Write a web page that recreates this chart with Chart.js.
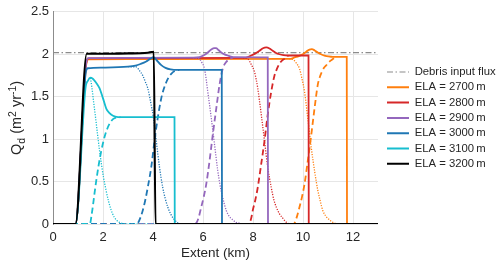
<!DOCTYPE html>
<html lang="en">
<head>
<meta charset="UTF-8">
<title>Debris flux vs extent</title>
<script src="https://cdn.jsdelivr.net/npm/chart.js"></script>
<style>
  html, body { margin: 0; padding: 0; background: #fff; }
  #wrap { width: 500px; height: 268px; }
</style>
</head>
<body>
<div id="wrap"><canvas id="fluxChart"></canvas></div>
<script>
// values: [extent km, Qd]
const xTickLabels = ['0', '2', '4', '6', '8', '10', '12'];
const yTickLabels = ['0', '0.5', '1', '1.5', '2', '2.5'];
const legendNames = ['Debris input flux', 'ELA = 2700\u2009m', 'ELA = 2800\u2009m', 'ELA = 2900\u2009m',
                     'ELA = 3000\u2009m', 'ELA = 3100\u2009m', 'ELA = 3200\u2009m'];

const debrisInput = [[0, 2.02], [13, 2.02]];

const ela2700Total = [[0,0],[0.9,0],[1.33,1.88],[1.42,1.94],[3,1.942],[9.5,1.945],[9.66,1.962],[9.83,1.978],[9.99,2.0],[10.13,2.03],[10.26,2.055],[10.35,2.06],[10.47,2.045],[10.59,2.02],[10.72,2.0],[10.86,1.985],[11.02,1.974],[11.19,1.968],[11.75,1.968],[11.76,0]];
const ela2700Decay = [[9.45,1.945],[9.59,1.94],[9.72,1.9],[9.86,1.83],[9.96,1.71],[10.06,1.56],[10.19,1.25],[10.33,0.9],[10.46,0.63],[10.59,0.4],[10.69,0.27],[10.79,0.16],[10.92,0.09],[11.06,0.05],[11.16,0.025],[11.26,0.01],[11.4,0],[11.76,0]];
const ela2700Rise = [[0,0],[9.6,0],[9.66,0.01],[9.76,0.09],[9.86,0.2],[9.96,0.32],[10.06,0.47],[10.19,0.74],[10.33,1.05],[10.46,1.36],[10.59,1.64],[10.67,1.73],[10.75,1.79],[10.84,1.84],[10.93,1.87],[11.03,1.905],[11.13,1.93],[11.25,1.955],[11.35,1.968]];

const ela2800Total = [[0,0],[0.9,0],[1.33,1.9],[1.42,1.952],[3,1.955],[7.7,1.958],[7.93,1.985],[8.1,2.01],[8.26,2.04],[8.4,2.07],[8.53,2.08],[8.66,2.068],[8.79,2.04],[8.92,2.015],[9.06,2.0],[9.22,1.99],[9.39,1.985],[10.22,1.985],[10.23,0]];
const ela2800Decay = [[7.6,1.955],[7.79,1.945],[7.93,1.88],[8.06,1.79],[8.13,1.7],[8.19,1.6],[8.26,1.45],[8.33,1.29],[8.46,0.98],[8.59,0.67],[8.73,0.43],[8.83,0.29],[8.93,0.2],[9.06,0.12],[9.19,0.07],[9.3,0.03],[9.39,0.01],[9.5,0],[10.23,0]];
const ela2800Rise = [[0,0],[7.8,0],[7.86,0.01],[7.93,0.07],[7.99,0.16],[8.09,0.28],[8.19,0.43],[8.33,0.71],[8.46,0.98],[8.59,1.29],[8.73,1.56],[8.86,1.75],[8.96,1.83],[9.06,1.89],[9.16,1.925],[9.26,1.945],[9.4,1.98]];

const ela2900Total = [[0,0],[0.9,0],[1.33,1.9],[1.42,1.955],[3,1.958],[5.6,1.96],[5.86,1.965],[6.05,1.99],[6.19,2.02],[6.33,2.055],[6.45,2.072],[6.52,2.072],[6.62,2.05],[6.73,2.02],[6.86,1.998],[6.99,1.985],[7.12,1.972],[7.26,1.965],[8.59,1.962],[8.6,0]];
const ela2900Decay = [[5.6,1.96],[5.76,1.955],[5.86,1.945],[5.96,1.9],[6.06,1.83],[6.13,1.7],[6.19,1.56],[6.26,1.41],[6.33,1.25],[6.46,0.94],[6.59,0.63],[6.67,0.48],[6.75,0.36],[6.84,0.25],[6.93,0.16],[7.05,0.09],[7.19,0.05],[7.32,0.02],[7.46,0.01],[7.6,0],[8.6,0]];
const ela2900Rise = [[0,0],[5.65,0],[5.73,0.01],[5.83,0.08],[5.93,0.2],[6.03,0.32],[6.13,0.47],[6.26,0.74],[6.39,1.05],[6.53,1.36],[6.66,1.64],[6.72,1.74],[6.79,1.83],[6.86,1.88],[6.93,1.91],[7.06,1.945],[7.2,1.962]];

const ela3000Total = [[0,0],[0.9,0],[1.32,1.8],[1.4,1.835],[2,1.843],[3,1.853],[3.3,1.865],[3.5,1.885],[3.73,1.915],[3.9,1.948],[4.02,1.965],[4.13,1.935],[4.33,1.872],[4.5,1.84],[4.7,1.822],[5,1.815],[6.75,1.815],[6.76,0]];
const ela3000Decay = [[3.0,1.853],[3.33,1.85],[3.45,1.81],[3.59,1.75],[3.7,1.67],[3.79,1.6],[3.93,1.4],[4.02,1.25],[4.13,0.98],[4.26,0.67],[4.39,0.43],[4.49,0.3],[4.59,0.2],[4.72,0.11],[4.86,0.05],[5.0,0.01],[5.1,0],[6.76,0]];
const ela3000Rise = [[0,0],[3.3,0],[3.39,0.01],[3.49,0.07],[3.59,0.16],[3.69,0.28],[3.79,0.43],[3.93,0.67],[4.06,0.98],[4.19,1.25],[4.33,1.48],[4.43,1.59],[4.53,1.67],[4.63,1.73],[4.73,1.77],[4.93,1.81],[5.05,1.815]];

const ela3100Total = [[0,0],[0.9,0],[1.3,1.6],[1.4,1.69],[1.5,1.725],[1.58,1.715],[1.66,1.69],[1.76,1.65],[1.86,1.6],[2.0,1.48],[2.13,1.36],[2.25,1.31],[2.4,1.275],[2.6,1.26],[3,1.258],[4.86,1.258],[4.87,0]];
const ela3100Decay = [[1.5,1.72],[1.56,1.6],[1.62,1.45],[1.7,1.26],[1.78,1.06],[1.86,0.87],[1.94,0.7],[2.02,0.55],[2.12,0.4],[2.22,0.27],[2.33,0.16],[2.45,0.08],[2.6,0.03],[2.8,0.005],[2.95,0],[4.87,0]];
const ela3100Rise = [[0,0],[1.45,0],[1.49,0.01],[1.54,0.1],[1.59,0.2],[1.66,0.36],[1.73,0.51],[1.83,0.7],[1.93,0.86],[2.03,0.99],[2.13,1.09],[2.26,1.18],[2.4,1.235],[2.55,1.255],[2.7,1.258]];

const ela3200Total = [[0,0],[0.9,0],[1.35,2.005],[2,2.005],[3,2.01],[3.5,2.012],[3.8,2.018],[3.95,2.025],[4.03,2.03],[4.1,0],[13,0]];

const toXY = arr => arr.map(p => ({ x: p[0], y: p[1] }));

function solid(label, pts, color, order, width) {
  return { label, data: toXY(pts), borderColor: color, backgroundColor: color, borderWidth: width || 1.8,
           pointRadius: 0, cubicInterpolationMode: 'monotone', order, inLegend: true };
}
function dotted(pts, color, order) {
  return { label: '', data: toXY(pts), borderColor: color, borderWidth: 1.3, borderDash: [1.2, 1.4],
           pointRadius: 0, cubicInterpolationMode: 'monotone', order, inLegend: false };
}
function dashed(pts, color, order) {
  return { label: '', data: toXY(pts), borderColor: color, borderWidth: 1.8, borderDash: [6, 3.5],
           pointRadius: 0, cubicInterpolationMode: 'monotone', order, inLegend: false };
}

const cOrange = '#ff7f0e', cRed = '#d62728', cPurple = '#9467bd', cBlue = '#1f77b4', cCyan = '#17becf';

const datasets = [
  { label: legendNames[0], data: toXY(debrisInput), borderColor: '#8c8c8c', backgroundColor: '#8c8c8c',
    borderWidth: 1.2, borderDash: [6, 2.5, 1.5, 2.5], pointRadius: 0, order: 16, inLegend: true },
  solid(legendNames[1], ela2700Total, cOrange, 13),
  solid(legendNames[2], ela2800Total, cRed, 10),
  solid(legendNames[3], ela2900Total, cPurple, 7),
  solid(legendNames[4], ela3000Total, cBlue, 4),
  solid(legendNames[5], ela3100Total, cCyan, 1),
  solid(legendNames[6], ela3200Total, '#000000', 0, 2.1),
  dotted(ela2700Decay, cOrange, 15), dashed(ela2700Rise, cOrange, 14),
  dotted(ela2800Decay, cRed, 12), dashed(ela2800Rise, cRed, 11),
  dotted(ela2900Decay, cPurple, 9), dashed(ela2900Rise, cPurple, 8),
  dotted(ela3000Decay, cBlue, 6), dashed(ela3000Rise, cBlue, 5),
  dotted(ela3100Decay, cCyan, 3), dashed(ela3100Rise, cCyan, 2)
];

// y label with sub/superscripts
const yAxisLabel = {
  id: 'yAxisLabel',
  afterDraw(chart) {
    const ctx = chart.ctx;
    const parts = [['Q', 0, 14.5], ['d', 3.5, 10.5], [' (m', 0, 14.5], ['2', -5.5, 10.5],
                   [' yr', 0, 14.5], ['-1', -5.5, 10.5], [')', 0, 14.5]];
    const fam = "'Liberation Sans', Arial, sans-serif";
    ctx.save();
    let w = 0;
    parts.forEach(p => { ctx.font = p[2] + 'px ' + fam; w += ctx.measureText(p[0]).width; });
    ctx.translate(21, (chart.chartArea.top + chart.chartArea.bottom) / 2);
    ctx.rotate(-Math.PI / 2);
    ctx.fillStyle = '#262626';
    ctx.textBaseline = 'alphabetic';
    let x = -w / 2;
    parts.forEach(p => {
      ctx.font = p[2] + 'px ' + fam;
      ctx.fillText(p[0], x, p[1]);
      x += ctx.measureText(p[0]).width;
    });
    ctx.restore();
  }
};

// push legend a few px right of the plot edge
const legendNudge = {
  id: 'legendNudge',
  afterLayout(chart) {
    if (chart.legend) { chart.legend.left += 5; chart.legend.right += 5; }
  }
};

Chart.defaults.font.family = "'Liberation Sans', Arial, sans-serif";
Chart.defaults.color = '#262626';

new Chart(document.getElementById('fluxChart'), {
  type: 'line',
  data: { datasets },
  options: {
    responsive: true,
    maintainAspectRatio: false,
    animation: false,
    parsing: false,
    layout: { padding: { top: 9, left: 0, right: 0, bottom: 0 } },
    scales: {
      x: {
        type: 'linear', min: 0, max: 13,
        ticks: { stepSize: 2, includeBounds: false, font: { size: 13 }, padding: 6,
                 callback: (v, i) => xTickLabels[i] },
        grid: { color: '#e6e6e6', drawTicks: false },
        border: { display: false },
        title: { display: true, text: 'Extent (km)', font: { size: 13.5 }, padding: { top: 0, bottom: 7 } },
        afterFit: s => { s.height = 44; }
      },
      y: {
        min: 0, max: 2.5,
        ticks: { stepSize: 0.5, font: { size: 13 }, padding: 4,
                 callback: (v, i) => yTickLabels[i] },
        grid: { color: '#e6e6e6', drawTicks: false },
        border: { color: '#8c8c8c', width: 1 },
        afterFit: s => { s.width = 53; }
      }
    },
    plugins: {
      legend: {
        position: 'right', align: 'center', fullSize: false, maxWidth: 122,
        labels: {
          usePointStyle: true, pointStyleWidth: 22, padding: 4,
          font: { size: 11.3 }, color: '#262626',
          generateLabels: chart => chart.data.datasets.map((ds, i) => ({
            text: ds.label, datasetIndex: i, hidden: false,
            strokeStyle: ds.borderColor, fillStyle: ds.borderColor,
            lineWidth: i === 0 ? 1.2 : 2, lineDash: ds.borderDash || [], lineCap: 'butt',
            pointStyle: 'line', fontColor: '#262626'
          })),
          filter: (item, data) => data.datasets[item.datasetIndex].inLegend,
          sort: (a, b) => a.datasetIndex - b.datasetIndex
        }
      },
      tooltip: { enabled: false }
    }
  },
  plugins: [yAxisLabel, legendNudge]
});
</script>
</body>
</html>
